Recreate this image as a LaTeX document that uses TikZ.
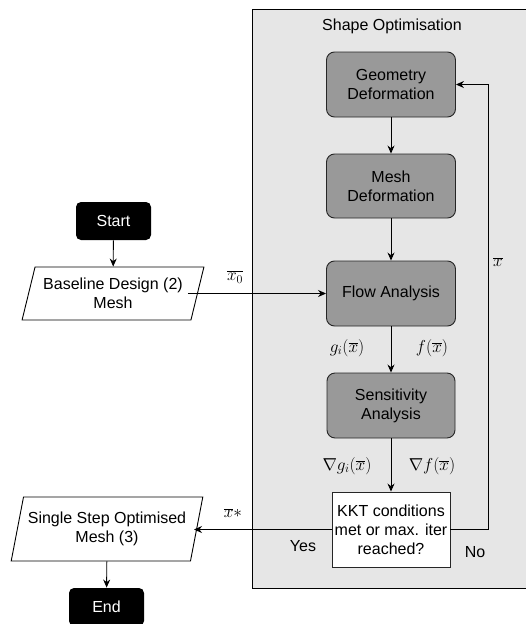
\documentclass[tikz,border=0pt]{standalone}
\usepackage{fontspec}
\setmainfont{Liberation Sans}
\usetikzlibrary{arrows.meta,shapes.geometric}
\definecolor{panelgray}{HTML}{E6E6E6}
\definecolor{boxgray}{HTML}{999999}
\begin{document}
\begin{tikzpicture}[x=1pt,y=-1pt,
  font=\fontsize{16}{19}\selectfont,
  line width=0.9pt,
  arr/.style={-{Stealth[length=8pt,width=7pt]}},
  procbox/.style={draw=black!85, fill=boxgray, rounded corners=8pt, align=center, minimum width=129pt, minimum height=65pt, inner sep=0pt},
  termbox/.style={fill=black, text=white, rounded corners=5pt, minimum width=75pt, minimum height=38pt, inner sep=0pt},
  iobox/.style={draw=black, fill=white, trapezium, trapezium left angle=#1, trapezium right angle=180-#1, trapezium stretches=true, align=center, inner sep=0pt},
  lbl/.style={inner sep=0pt, font=\fontsize{17.28}{21}\selectfont}
]
\useasboundingbox (0,0) rectangle (525,624);
% panel
\node[draw=black, fill=panelgray, minimum width=275pt, minimum height=579pt, inner sep=0pt, anchor=north west] (panel) at (252,9) {};
\node[inner sep=0pt] (title) at (392,26) {Shape Optimisation};
% process boxes
\node[procbox] (geo) at (391,84.5) {Geometry\\Deformation};
\node[procbox, minimum height=64pt] (mesh) at (391,186) {Mesh\\Deformation};
\node[procbox] (flow) at (391,293.5) {Flow Analysis};
\node[procbox, minimum width=128pt] (sens) at (391,405.5) {Sensitivity\\Analysis};
\node[draw=black!85, fill=white, minimum width=118pt, minimum height=75pt, align=center, inner sep=0pt] (kkt) at (391,529.5) {KKT conditions\\met or max. iter\\reached?};
% terminals
\node[termbox] (start) at (113.5,221) {Start};
\node[termbox] (end) at (106.5,607) {End};
% io
\node[iobox=69.3, minimum width=182pt, minimum height=53pt] (base) at (113,293.5) {Baseline Design (2)\\Mesh};
\node[iobox=71, minimum width=192pt, minimum height=64pt] (single) at (107,529) {Single Step Optimised\\Mesh (3)};
% connectors
\draw[arr] (start) -- (base);
\draw[arr] (base.east |- flow.west) ++(-10pt,0) coordinate (bout) -- (flow.west);
\draw[arr] (geo) -- (mesh);
\draw[arr] (mesh) -- (flow);
\draw[arr] (flow) -- (sens);
\draw[arr] (sens) -- (kkt);
\coordinate (sin) at (194,529.5);
\draw[arr] (kkt.west) -- (sin);
\coordinate (fb) at (488,529.5);
\draw[arr] (kkt.east) -- (fb) |- (geo.east);
\draw[arr] (single) -- (end);
% labels
\node[lbl] (lx0) at (235,277) {$\overline{x_0}$};
\node[lbl] (lg) at (347,348) {$g_i(\overline{x})$};
\node[lbl] (lf) at (432,348) {$f(\overline{x})$};
\node[lbl] (ldg) at (347,466) {$\nabla g_i(\overline{x})$};
\node[lbl] (ldf) at (432,466) {$\nabla f(\overline{x})$};
\node[lbl] (lx) at (498,262) {$\overline{x}$};
\node[lbl] (lxs) at (233,513) {$\overline{x}*$};
\node[inner sep=0pt] (yes) at (303,546) {Yes};
\node[inner sep=0pt] (no) at (475,552) {No};
\end{tikzpicture}
\end{document}
